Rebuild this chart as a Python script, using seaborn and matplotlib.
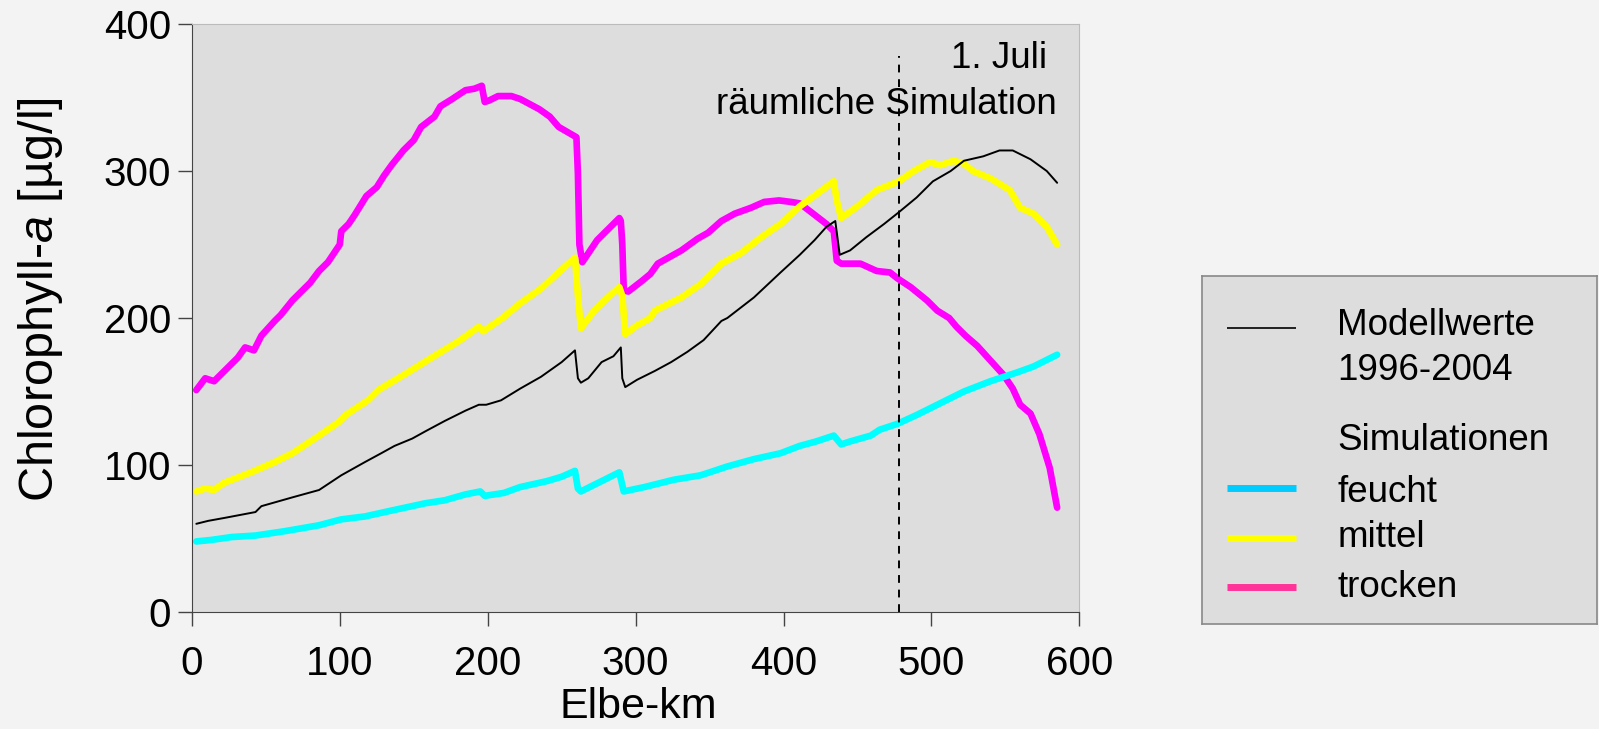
import numpy as np
import pandas as pd
import seaborn as sns
import matplotlib.pyplot as plt

# Elbe-km / chlorophyll-a values
trocken_km = [3, 9, 15, 22, 31, 36, 42, 47, 56, 60, 68, 80, 86, 92, 100, 101, 106, 110, 118,
              125, 130, 135, 143, 150, 155, 164, 168, 176, 185, 191, 196, 198, 201, 207, 216,
              222, 235, 242, 248, 260, 261, 262, 264, 268, 274, 289, 290, 291, 292, 295, 304,
              310, 315, 331, 342, 349, 358, 367, 378, 387, 397, 405, 411, 420, 429, 434, 436,
              439, 452, 463, 472, 477, 486, 497, 504, 512, 517, 523, 531, 540, 549, 555, 560,
              567, 573, 580, 585]
trocken_val = [151, 159, 157, 164, 173, 180, 178, 188, 198, 202, 212, 224, 232, 238, 250, 259,
               264, 270, 283, 289, 297, 304, 314, 321, 330, 337, 344, 349, 355, 356, 358, 347,
               348, 351, 351, 349, 342, 337, 330, 323, 298, 250, 238, 244, 253, 268, 266, 250,
               219, 218, 225, 230, 237, 246, 254, 258, 266, 271, 275, 279, 280, 279, 278, 271,
               264, 259, 239, 237, 237, 232, 231, 227, 221, 212, 205, 200, 194, 188, 181, 171,
               161, 152, 141, 135, 121, 98, 71]

mittel_km = [3, 9, 15, 22, 40, 56, 68, 86, 99, 104, 119, 126, 146, 162, 180, 194, 197, 210,
             222, 236, 250, 259, 261, 263, 272, 279, 289, 291, 293, 301, 310, 313, 331, 344,
             358, 371, 385, 398, 411, 422, 434, 436, 439, 450, 463, 478, 488, 499, 506, 515,
             522, 528, 540, 553, 560, 569, 578, 585]
mittel_val = [82, 84, 83, 88, 95, 102, 108, 120, 129, 134, 144, 151, 163, 173, 184, 194, 191,
              200, 210, 220, 233, 241, 215, 193, 205, 212, 221, 215, 189, 195, 200, 205, 214,
              223, 237, 244, 255, 264, 276, 284, 293, 280, 268, 276, 287, 293, 300, 306, 304,
              307, 305, 300, 295, 287, 275, 271, 262, 250]

modell_km = [3, 11, 22, 43, 47, 68, 86, 92, 101, 117, 128, 137, 149, 158, 171, 185, 194, 199,
             209, 222, 236, 250, 259, 261, 263, 268, 277, 285, 290, 291, 293, 301, 313, 324,
             335, 346, 358, 362, 380, 398, 411, 421, 429, 435, 438, 445, 456, 468, 478, 490,
             501, 513, 522, 535, 546, 555, 567, 578, 585]
modell_val = [60, 62, 64, 68, 72, 78, 83, 87, 93, 102, 108, 113, 118, 123, 130, 137, 141, 141,
              144, 152, 160, 170, 178, 159, 156, 159, 170, 174, 180, 159, 153, 158, 164, 170,
              177, 185, 198, 200, 214, 231, 243, 253, 262, 266, 243, 246, 255, 264, 272, 282,
              293, 300, 307, 310, 314, 314, 308, 300, 292]

feucht_km = [3, 13, 27, 43, 63, 86, 101, 117, 135, 158, 171, 185, 195, 198, 211, 222, 240,
             250, 259, 261, 263, 277, 289, 292, 306, 326, 344, 362, 380, 398, 411, 422, 434,
             439, 445, 459, 465, 477, 490, 504, 522, 540, 558, 569, 585]
feucht_val = [48, 49, 51, 52, 55, 59, 63, 65, 69, 74, 76, 80, 82, 79, 81, 85, 89, 92, 96, 84,
              82, 89, 95, 82, 85, 90, 93, 99, 104, 108, 113, 116, 120, 114, 116, 120, 124, 128,
              134, 141, 150, 157, 163, 167, 175]

series = [
    ("trocken", trocken_km, trocken_val, "#ff00ff", 4.8),
    ("mittel", mittel_km, mittel_val, "#ffff00", 4.8),
    ("feucht", feucht_km, feucht_val, "#00ffff", 4.8),
    ("Modellwerte", modell_km, modell_val, "black", 1.4),
]

sns.set_style("ticks")
plt.rcParams["font.family"] = ["Liberation Sans", "DejaVu Sans"]
plt.rcParams["mathtext.fontset"] = "custom"
plt.rcParams["mathtext.rm"] = "Liberation Sans"
plt.rcParams["mathtext.it"] = "Liberation Sans:italic"
for key in ["text.color", "axes.labelcolor", "xtick.labelcolor", "ytick.labelcolor"]:
    plt.rcParams[key] = "black"

fig = plt.figure(figsize=(15.99, 7.29), dpi=100, facecolor="#f3f3f3")
ax = fig.add_axes([0.120, 0.1605, 0.555, 0.8065], facecolor="#dddddd")

for name, km, val, color, lw in series:
    df = pd.DataFrame({"km": km, "val": val})
    sns.lineplot(data=df, x="km", y="val", ax=ax, color=color, linewidth=lw,
                 sort=False, estimator=None, legend=False)

# 1. Juli marker
ax.plot([478, 478], [0, 378], color="black", linestyle=(0, (4, 3.5)), linewidth=1.4)
ax.text(578, 370, "1. Juli", ha="right", va="baseline", fontsize=26.5)
ax.text(585, 339, "räumliche Simulation", ha="right", va="baseline", fontsize=26.5)

ax.set_xlim(0, 600)
ax.set_ylim(0, 400)
ax.set_xticks(range(0, 601, 100))
ax.set_yticks(range(0, 401, 100))
ax.tick_params(axis="both", labelsize=29, length=10, width=1, color="#444444")
ax.tick_params(axis="x", pad=14)
ax.tick_params(axis="y", pad=5)
ax.set_xlabel("Elbe-km", fontsize=31)
ax.xaxis.set_label_coords(0.503, -0.127)
ax.xaxis.label.set_va("top")
ax.set_ylabel(r"Chlorophyll-$\mathit{a}$ [µg/l]", fontsize=35)
ax.yaxis.set_label_coords(-0.143, 0.532)
for side in ["left", "bottom"]:
    ax.spines[side].set_color("#444444")
for side in ["top", "right"]:
    ax.spines[side].set_visible(True)
    ax.spines[side].set_color("#bbbbbb")

# legend box
lax = fig.add_axes([0.7517, 0.144, 0.2470, 0.4774], facecolor="#dddddd")
lax.set_xlim(0, 1)
lax.set_ylim(0, 1)
lax.set_xticks([])
lax.set_yticks([])
for sp in lax.spines.values():
    sp.set_color("#888888")
    sp.set_linewidth(1.2)

entries = [
    ("Modellwerte\n1996-2004", "black", 1.2, 0.851, 0.8305),
    ("Simulationen", None, 0, None, 0.50),
    ("feucht", "#00ccff", 5, 0.391, 0.3514),
    ("mittel", "#ffff00", 5, 0.247, 0.2204),
    ("trocken", "#ff3399", 5, 0.106, 0.0785),
]
for label, color, lw, ly, ty in entries:
    if color is not None:
        lax.plot([0.063, 0.239], [ly, ly], color=color, linewidth=lw,
                 solid_capstyle="butt")
    lines = label.split("\n")
    for i, line in enumerate(lines):
        lax.text(0.3426, ty - i * 0.1294, line, ha="left", va="baseline", fontsize=26.5)

fig.savefig("out.png", dpi=100, facecolor=fig.get_facecolor())
